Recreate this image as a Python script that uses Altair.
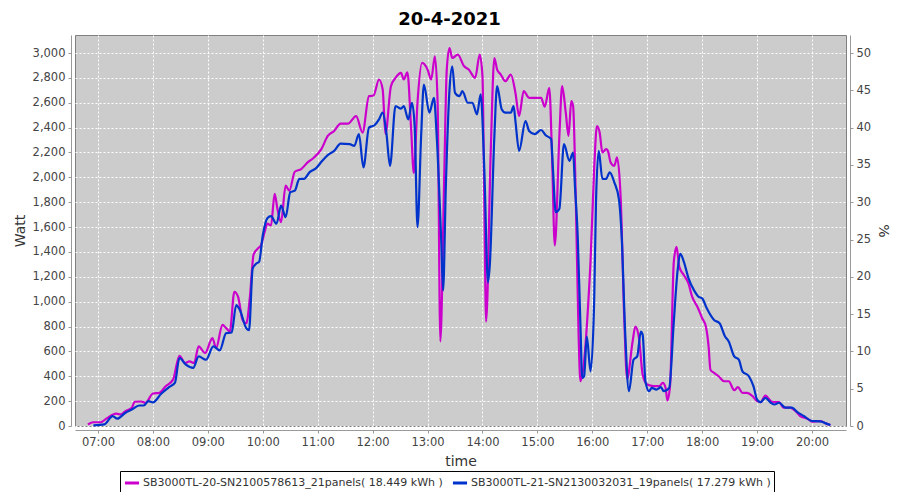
import altair as alt
import pandas as pd

TITLE = "20-4-2021"
SERIES = ["SB3000TL-20-SN2100578613_21panels( 18.449 kWh )",
          "SB3000TL-21-SN2130032031_19panels( 17.279 kWh )"]
COLORS = ["#cc00cc", "#0033cc"]

m_times = ["06:49","06:55","07:03","07:09","07:20","07:25","07:30","07:37","07:40","07:47","07:52",
           "08:00","08:07","08:14","08:22","08:29","08:35","08:40","08:45","08:50","08:57",
           "09:05","09:09","09:16","09:20","09:24","09:29","09:33","09:38","09:42","09:46","09:50","09:55","09:58",
           "10:02","10:05","10:09","10:13","10:16","10:20","10:25","10:29","10:35","10:42","10:49","10:56",
           "11:04","11:11","11:18","11:25","11:33","11:42","11:49","11:56",
           "12:01","12:07","12:11","12:14","12:20","12:25","12:31","12:34","12:38","12:42","12:45","12:49","12:54",
           "13:00","13:04","13:08","13:11","13:14","13:18","13:21","13:24","13:27","13:33","13:40","13:45","13:52","13:57",
           "14:00","14:02","14:04","14:09","14:13","14:16","14:20","14:25","14:31","14:36","14:40","14:45","14:51","14:57",
           "15:04","15:08","15:13","15:16","15:19","15:24","15:27","15:31","15:34","15:37","15:39","15:42","15:45","15:47","15:51","15:55","15:58",
           "16:02","16:05","16:08","16:11","16:15","16:17","16:20","16:24","16:27","16:31","16:35","16:38","16:44","16:47","16:51","16:55",
           "17:00","17:07","17:13","17:17","17:20","17:22","17:25","17:29","17:32","17:35","17:40","17:45","17:49","17:55",
           "18:00","18:04","18:07","18:09","18:13","18:18","18:24","18:29","18:35","18:39","18:44","18:49","18:55",
           "19:00","19:04","19:09","19:15","19:19","19:24","19:29","19:36","19:42","19:47","19:55",
           "20:00","20:09","20:15","20:20"]
m_watts = [12,30,30,59,99,93,120,147,195,197,187,
           261,267,320,373,565,507,520,507,640,587,
           707,627,813,787,760,1080,1040,853,827,1040,1380,1430,1453,
           1560,1627,1613,1867,1747,1640,1933,1893,2045,2067,2120,2160,
           2227,2333,2373,2432,2432,2493,2360,2653,
           2659,2787,2707,2350,2733,2800,2840,2787,2845,2400,2035,2600,2920,
           2867,2787,2973,2600,680,1933,2867,3040,2960,2987,2893,2867,2800,2987,
           2813,1800,840,2200,2960,2867,2827,2773,2827,2680,2493,2693,2640,2640,
           2640,2568,2720,2173,1453,2333,2733,2520,2333,2613,2573,1800,733,360,520,920,1320,
           2067,2413,2360,2200,2227,2213,2120,2093,2160,1827,840,380,680,800,707,413,
           333,320,320,347,307,205,333,1320,1440,1280,1213,1147,1040,955,
           867,800,640,453,427,400,360,360,288,312,267,267,240,
           200,192,245,200,192,192,147,147,120,80,59,
           35,40,21,8]

b_times = ["06:55","07:07","07:16","07:21","07:30","07:37","07:45","07:50","07:55",
           "08:00","08:09","08:18","08:24","08:29","08:36","08:44","08:50","08:58",
           "09:06","09:13","09:20","09:26","09:31","09:35","09:42","09:45","09:49","09:53","09:56",
           "10:00","10:05","10:09","10:15","10:20","10:25","10:30","10:35","10:40","10:45","10:51","10:58",
           "11:05","11:11","11:18","11:25","11:35","11:40","11:45","11:50","11:56",
           "12:02","12:07","12:11","12:15","12:19","12:25","12:31","12:34","12:39","12:43","12:46","12:49","12:53","12:56",
           "13:02","13:07","13:10","13:15","13:17","13:20","13:24","13:27","13:30","13:35","13:38","13:44","13:49","13:54","13:58",
           "14:02","14:06","14:08","14:13","14:16","14:21","14:25","14:31","14:34","14:36","14:40","14:47","14:51","14:57",
           "15:04","15:09","15:15","15:17","15:20","15:24","15:29","15:35","15:39","15:41","15:44","15:47","15:49","15:51","15:54","15:58",
           "16:02","16:04","16:07","16:11","16:15","16:19","16:24","16:29","16:32","16:36","16:40","16:45","16:49","16:53","16:55","16:58",
           "17:02","17:05","17:10","17:15","17:18","17:24","17:29","17:33","17:36","17:40","17:45","17:51","17:56",
           "18:00","18:05","18:13","18:19","18:25","18:29","18:35","18:40","18:44","18:51","18:56",
           "19:00","19:04","19:09","19:15","19:19","19:24","19:31","19:38","19:44","19:51",
           "20:00","20:09","20:15","20:20"]
b_watts = [5,13,80,59,107,133,165,165,200,
           190,259,315,347,547,493,467,560,533,
           640,608,747,752,973,933,787,770,1267,1307,1320,
           1533,1672,1688,1627,1773,1680,1880,1893,1987,1987,2040,2072,
           2133,2179,2213,2272,2267,2253,2347,2080,2400,
           2419,2467,2520,2360,2093,2573,2552,2573,2467,2600,2400,1600,2333,2747,
           2520,2640,2333,1480,1090,1933,2707,2893,2680,2653,2693,2600,2600,2507,2667,
           2067,1155,1293,2333,2733,2547,2520,2520,2573,2453,2213,2453,2373,2347,
           2381,2339,2307,2067,1720,1747,2267,2133,2200,1933,1533,813,387,400,720,440,
           1000,1800,2213,1987,1987,2040,1960,1827,1533,733,280,533,560,760,733,360,
           280,307,293,312,280,307,840,1240,1387,1320,1190,1093,1040,
           1027,947,853,827,720,680,560,533,440,400,320,
           213,192,227,187,173,187,147,147,112,80,
           40,37,21,8]

W_TICKS = list(range(0, 3001, 200))
P_TICKS = list(range(0, 51, 5))
W_MAX = 3145
P_MAX = W_MAX / 60.0

rows = []
for t, w in zip(m_times, m_watts):
    rows.append({"time": f"2021-04-20T{t}:00", "watt": w, "series": SERIES[0]})
for t, w in zip(b_times, b_watts):
    rows.append({"time": f"2021-04-20T{t}:00", "watt": w, "series": SERIES[1]})
df = pd.DataFrame(rows)

FONT = "DejaVu Sans"
x_dom = [alt.DateTime(year=2021, month=4, date=20, hours=6, minutes=34, seconds=54),
         alt.DateTime(year=2021, month=4, date=20, hours=20, minutes=37, seconds=6)]
x_vals = [alt.DateTime(year=2021, month=4, date=20, hours=h, minutes=0) for h in range(7, 21)]

x_enc = alt.X("time:T", scale=alt.Scale(domain=x_dom),
              axis=alt.Axis(values=x_vals, format="%H:%M", title="time",
                            grid=True, gridColor="white", gridDash=[2, 2], gridWidth=1,
                            offset=4, domainColor="#999999", tickColor="#999999", tickSize=3,
                            labelFontSize=11.5, labelColor="#444444", labelPadding=3,
                            titleFontSize=14, titleFontWeight="normal", titleColor="#333333",
                            titlePadding=7, labelFont=FONT, titleFont=FONT))

lines = alt.Chart(df).mark_line(strokeWidth=2.2, interpolate="monotone").encode(
    x=x_enc,
    y=alt.Y("watt:Q", scale=alt.Scale(domain=[0, W_MAX], nice=False),
            axis=alt.Axis(values=W_TICKS, format=",d", title="Watt",
                          grid=True, gridColor="white", gridDash=[2, 2], gridWidth=1,
                          offset=4, domainColor="#999999", tickColor="#999999", tickSize=3,
                          labelFontSize=11.5, labelColor="#444444", labelPadding=3,
                          titleFontSize=14, titleFontWeight="normal", titleColor="#333333",
                          titlePadding=5, labelFont=FONT, titleFont=FONT)),
    color=alt.Color("series:N",
                    scale=alt.Scale(domain=SERIES, range=COLORS),
                    legend=alt.Legend(orient="none", legendX=45, legendY=436,
                                      direction="horizontal", title=None,
                                      symbolType="stroke", symbolStrokeWidth=3, symbolSize=200,
                                      strokeColor="black", fillColor="white", padding=3,
                                      labelFontSize=11, labelLimit=600, labelFont=FONT,
                                      labelColor="#333333", columnPadding=3, labelOffset=2)),
    order=alt.Order("time:T"),
)

pct = alt.Chart(df).transform_filter(
    alt.datum.series == SERIES[0]
).transform_calculate(pct="datum.watt / 60").mark_line(opacity=0).encode(
    x=alt.X("time:T", scale=alt.Scale(domain=x_dom)),
    y=alt.Y("pct:Q", scale=alt.Scale(domain=[0, P_MAX], nice=False),
            axis=alt.Axis(orient="right", values=P_TICKS, title="%", grid=False,
                          offset=4, domainColor="#999999", tickColor="#999999", tickSize=3,
                          labelFontSize=11.5, labelColor="#444444", labelPadding=3,
                          titleFontSize=14, titleFontWeight="normal", titleColor="#333333",
                          titlePadding=5, labelFont=FONT, titleFont=FONT)),
)

chart = alt.layer(lines, pct).resolve_scale(y="independent").properties(
    width=771, height=391,
    padding={"left": 67, "top": 27, "right": 46, "bottom": 66},
    autosize=alt.AutoSizeParams(type="none"),
    background="white",
    title=alt.TitleParams(text=TITLE, font=FONT, fontSize=18, fontWeight="bold",
                          color="black", anchor="middle", dx=-11, offset=6),
).configure_view(fill="#cccccc", stroke="#808080", strokeWidth=1)

chart.save("out.html", embed_options={"renderer": "svg", "actions": False})
